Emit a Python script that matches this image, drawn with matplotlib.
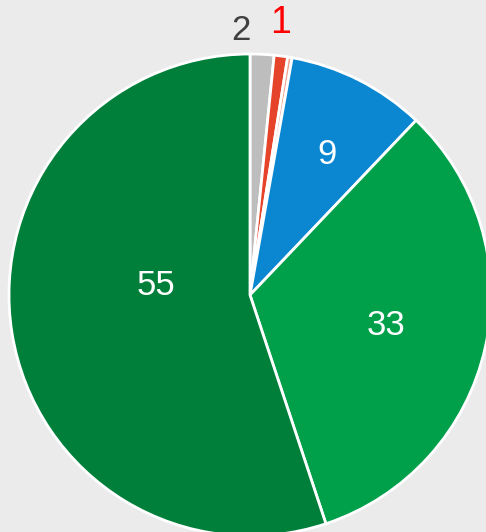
import matplotlib
matplotlib.use("Agg")
import matplotlib.pyplot as plt
import numpy as np

categories = ["Gray", "Red", "Pink", "Blue", "Green", "Dark green"]
values = [1.6, 0.9, 0.3, 9.3, 32.8, 55.1]
labels = ["2", "1", "", "9", "33", "55"]
colors = ["#bdbdbd", "#e5432a", "#f2a28f", "#0a87d0", "#00a04b", "#007f3a"]
label_colors = ["#404040", "#ff0000", "#ffffff", "#ffffff", "#ffffff", "#ffffff"]

# label placement (angle clockwise from top in degrees, radius fraction, font size)
label_pos = [(-1.9, 1.10, 25), (6.5, 1.135, 27), (0, 0, 25), (28.6, 0.665, 25),
             (102.5, 0.58, 25), (275.5, 0.39, 25)]

W, H = 486, 532
cx, cy, R = 250, 295, 241

fig = plt.figure(figsize=(W / 100, H / 100), dpi=100)
fig.patch.set_facecolor("#ebebeb")
ax = fig.add_axes([0, 0, 1, 1])
ax.set_facecolor("#ebebeb")

ax.pie(values, colors=colors, startangle=90, counterclock=False, radius=1,
       wedgeprops=dict(edgecolor="white", linewidth=2))

for lab, col, (ang, r, fs) in zip(labels, label_colors, label_pos):
    if not lab:
        continue
    a = np.deg2rad(ang)
    ax.text(r * np.sin(a), r * np.cos(a), lab, color=col, fontsize=fs,
            family="Liberation Sans", ha="center", va="center")

ax.set_xlim((0 - cx) / R, (W - cx) / R)
ax.set_ylim((cy - H) / R, cy / R)
ax.set_aspect("equal")
ax.axis("off")

fig.savefig("out.png", dpi=100, facecolor=fig.get_facecolor())
